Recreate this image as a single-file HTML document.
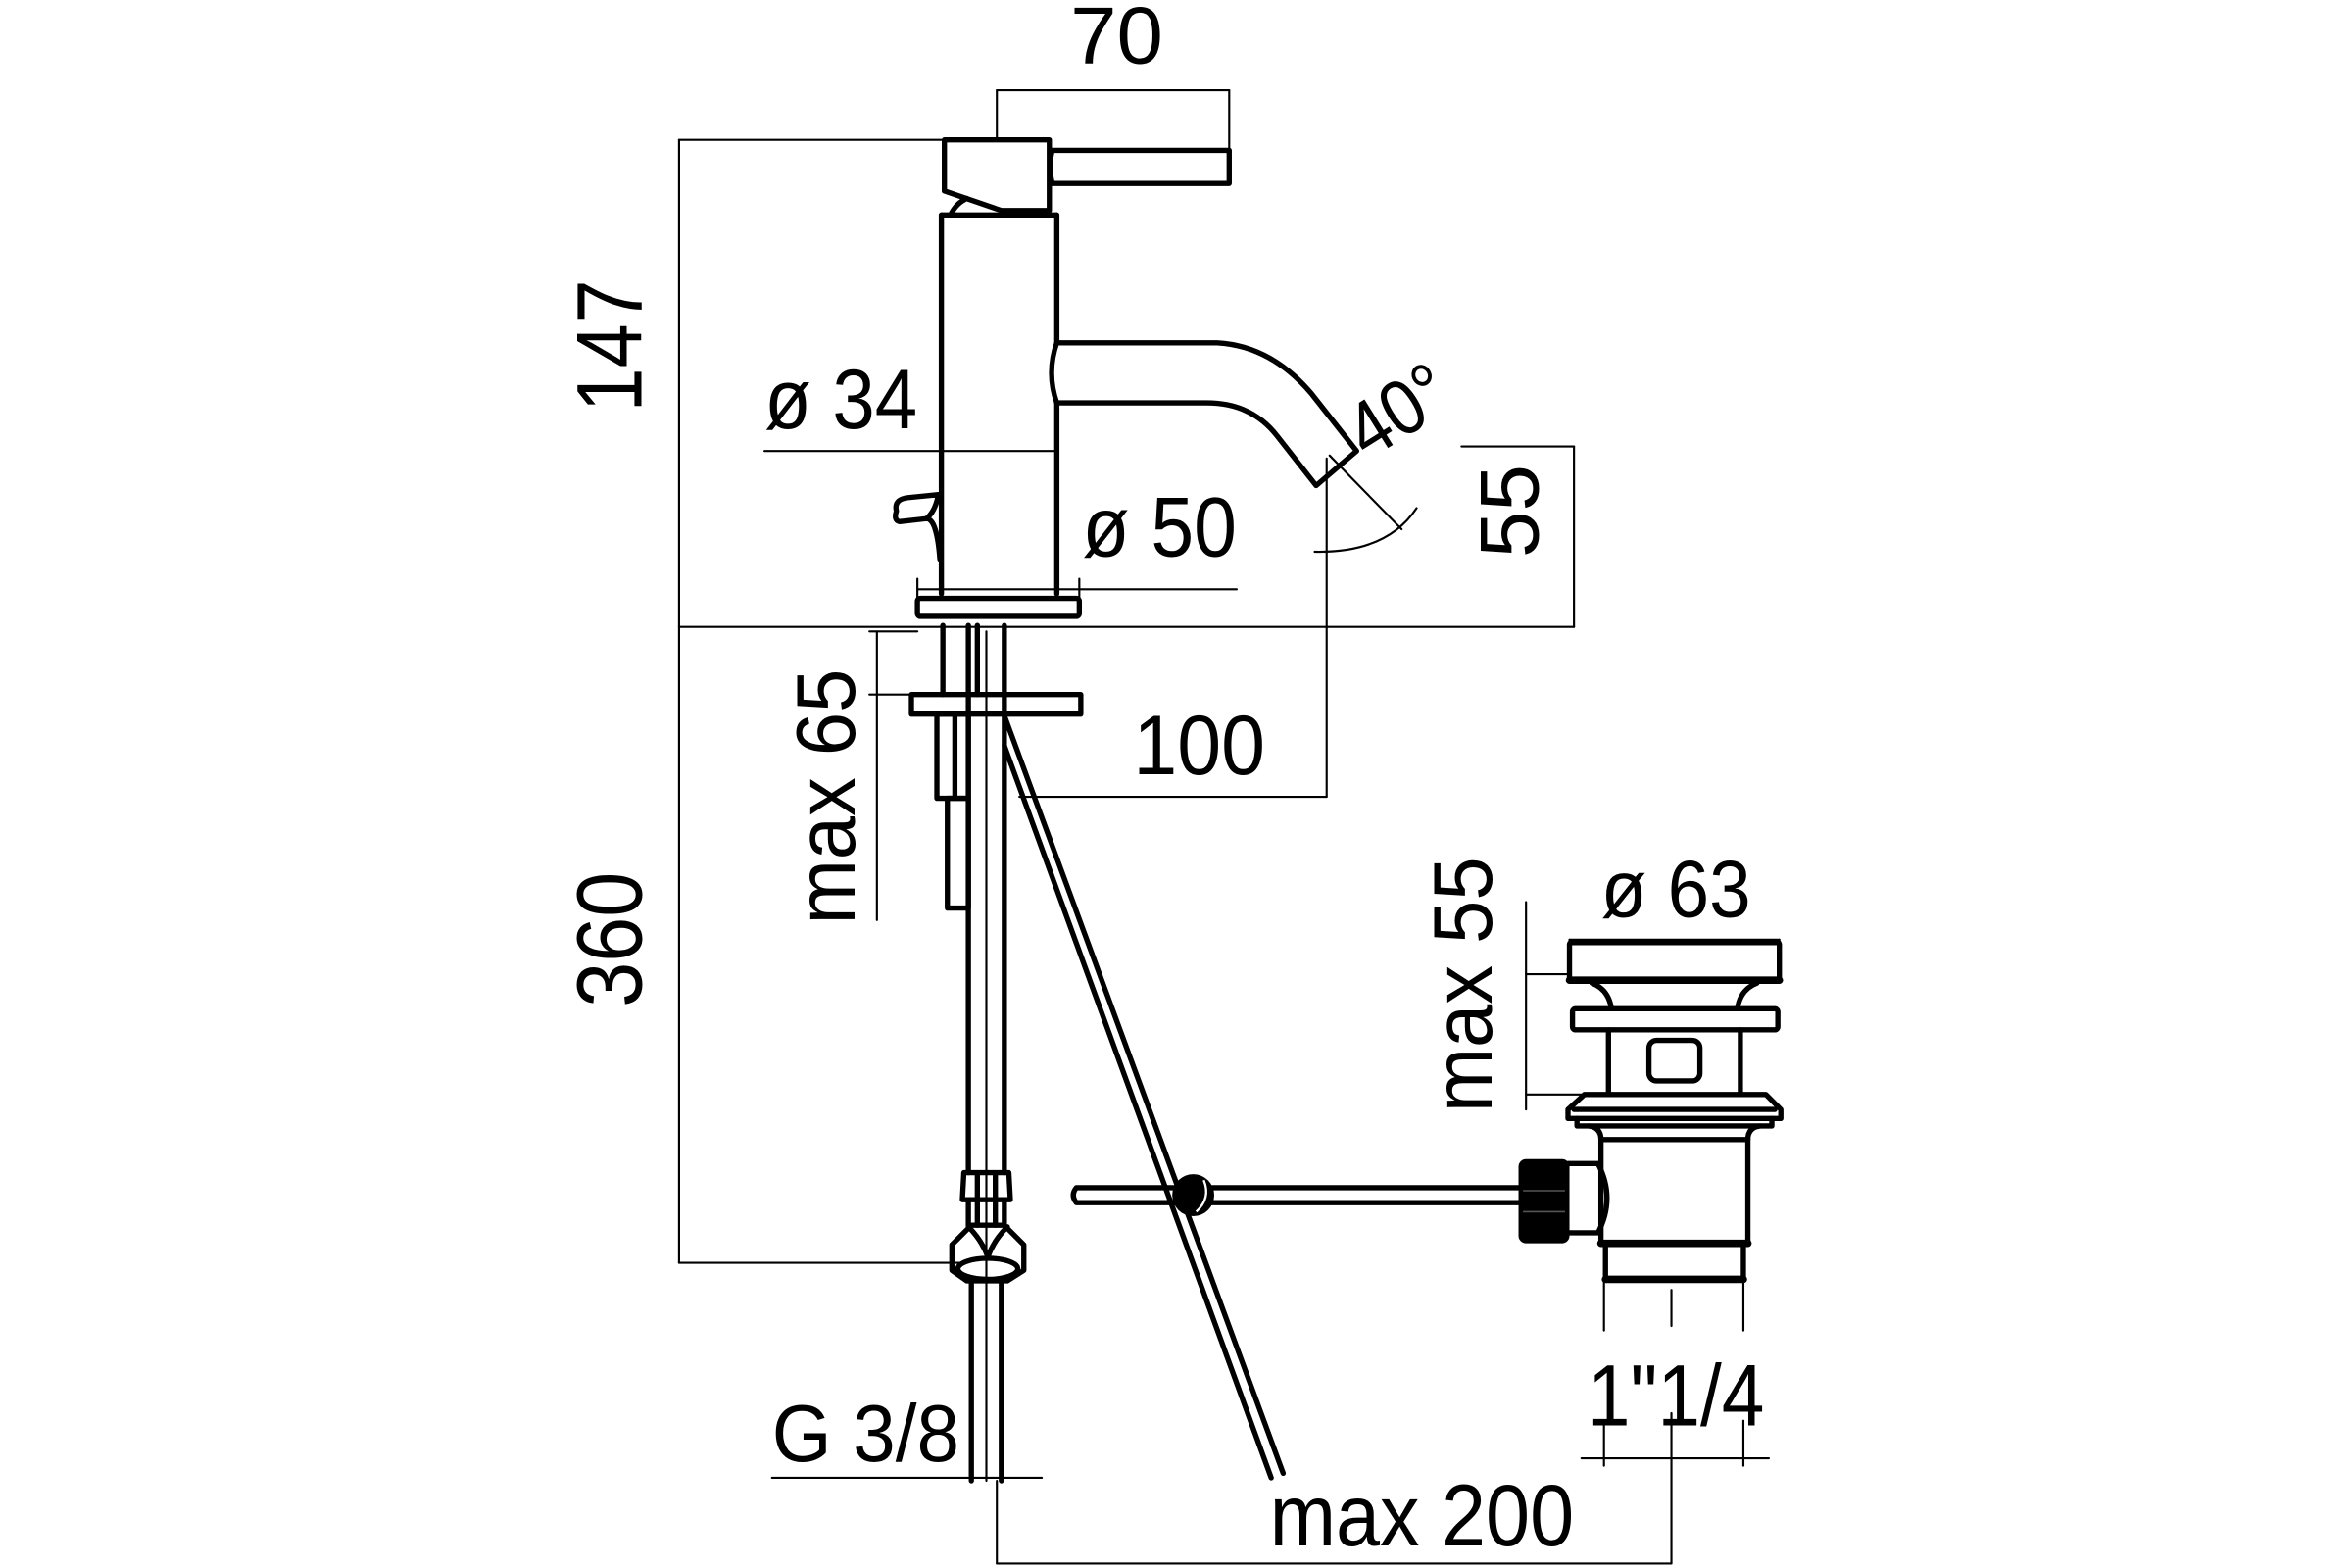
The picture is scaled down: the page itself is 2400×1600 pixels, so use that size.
<!DOCTYPE html>
<html><head><meta charset="utf-8"><style>
html,body{margin:0;padding:0;background:#fff;}
svg{display:block;}
text{font-family:"Liberation Sans Narrow","Liberation Sans",sans-serif;fill:#000;}
</style></head><body>
<svg width="2400" height="1600" viewBox="0 0 1569 1043" preserveAspectRatio="none" xmlns="http://www.w3.org/2000/svg">
<rect width="1569" height="1043" fill="#fff"/>
<g fill="none" stroke="#000" stroke-linecap="round" stroke-linejoin="round">
<g stroke-width="1.4">
 <line x1="665" y1="60" x2="820" y2="60"/>
 <line x1="665" y1="60" x2="665" y2="93"/>
 <line x1="820" y1="60" x2="820" y2="115"/>
 <line x1="453" y1="93" x2="628" y2="93"/>
 <line x1="453" y1="93" x2="453" y2="417"/>
 <line x1="453" y1="417" x2="1050" y2="417"/>
 <line x1="510" y1="300" x2="705" y2="300"/>
 <line x1="612" y1="392" x2="825" y2="392"/>
 <line x1="612" y1="385" x2="612" y2="398"/>
 <line x1="720" y1="385" x2="720" y2="398"/>
 <line x1="975" y1="297" x2="1050" y2="297"/>
 <line x1="1050" y1="297" x2="1050" y2="417"/>
 <line x1="885" y1="305" x2="885" y2="530"/>
 <line x1="887" y1="303" x2="935" y2="352"/>
 <path d="M877 367 Q925 368 945 338"/>
 <line x1="680" y1="530" x2="885" y2="530"/>
 <line x1="585" y1="420" x2="585" y2="612"/>
 <line x1="580" y1="420" x2="612" y2="420"/>
 <line x1="580" y1="462" x2="617" y2="462"/>
 <line x1="453" y1="417" x2="453" y2="840"/>
 <line x1="453" y1="840" x2="645" y2="840"/>
 <line x1="648" y1="850" x2="648" y2="985"/>
 <line x1="668" y1="850" x2="668" y2="985"/>
 <line x1="515" y1="983" x2="695" y2="983"/>
 <line x1="665" y1="985" x2="665" y2="1040"/>
 <line x1="665" y1="1040" x2="1115" y2="1040"/>
 <line x1="1115" y1="940" x2="1115" y2="1040"/>
 <line x1="1115" y1="858" x2="1115" y2="882"/>
 <line x1="1070" y1="851" x2="1070" y2="885"/>
 <line x1="1163" y1="851" x2="1163" y2="885"/>
 <line x1="1070" y1="945" x2="1070" y2="975"/>
 <line x1="1163" y1="945" x2="1163" y2="975"/>
 <line x1="1055" y1="970" x2="1180" y2="970"/>
 <line x1="1018" y1="600" x2="1018" y2="738"/>
 <line x1="1018" y1="648" x2="1047" y2="648"/>
 <line x1="1018" y1="728" x2="1055" y2="728"/>
 <line x1="1047" y1="625" x2="1187" y2="625"/>
 <line x1="1047" y1="625" x2="1047" y2="652"/>
 <line x1="1187" y1="625" x2="1187" y2="652"/>
 <line x1="658" y1="420" x2="658" y2="985"/>
</g>
<g stroke-width="3.5">
 <path d="M630 93 L700 93 L700 140 L668 140 L630 127 Z"/>
 <path d="M634 143 Q638 135 645 132"/>
 <path d="M702 100 L820 100 L820 122 L702 122 Q699 111 702 100 Z"/>
 <path d="M628 143 L705 143"/>
 <path d="M628 143 L628 395"/>
 <path d="M705 143 L705 228"/>
 <path d="M705 268 L705 395"/>
 <path d="M705 228 L812 228 Q848 230 875 262 L905 300 L878 323 L852 290 Q835 268 805 268 L705 268 Q698 248 705 228"/>
 <path d="M598 340 Q596 332 606 331 L626 329 Q624 340 618 345 L600 347 Q596 346 598 340"/>
 <path d="M618 345 Q625 345 627 372"/>
 <rect x="612" y="398" width="108" height="12" rx="2"/>
 <line x1="629" y1="416" x2="629" y2="462"/>
 <line x1="646" y1="416" x2="646" y2="780"/>
 <line x1="670" y1="416" x2="670" y2="780"/>
 <line x1="652" y1="416" x2="652" y2="462"/>
 <rect x="608" y="462" width="113" height="13"/>
 <rect x="625" y="475" width="21" height="56"/>
 <line x1="637" y1="475" x2="637" y2="531"/>
 <rect x="632" y="531" width="14" height="73"/>
 <line x1="670" y1="476" x2="856" y2="980"/>
 <line x1="670" y1="496" x2="848" y2="983"/>
 <path d="M643 780 L673 780 L674 798 L642 798 Z"/>
 <line x1="652" y1="782" x2="652" y2="815"/>
 <line x1="664" y1="782" x2="664" y2="815"/>
 <line x1="646" y1="798" x2="646" y2="815"/>
 <line x1="670" y1="798" x2="670" y2="815"/>
 <path d="M648 815 L670 815 L683 828 L683 845 L672 852 L645 852 L635 845 L635 828 Z"/>
 <ellipse cx="659" cy="844" rx="20" ry="7"/>
 <path d="M646 816 Q655 825 659 836 Q663 825 672 816"/>
 <line x1="648" y1="852" x2="648" y2="985"/>
 <line x1="668" y1="852" x2="668" y2="985"/>
 <path d="M1015 790 L718 790 Q714 795 718 800 L1015 800"/>
 <rect x="1047" y="627" width="140" height="25" rx="1"/>
 <path d="M1047 652 L1187 652" stroke-width="5"/>
 <path d="M1062 654 Q1073 658 1075 671 M1172 654 Q1161 658 1159 671"/>
 <rect x="1049" y="671" width="137" height="14" rx="2"/>
 <path d="M1073 685 L1073 728 M1161 685 L1161 728"/>
 <rect x="1100" y="692" width="34" height="27" rx="5"/>
 <path d="M1057 728 L1178 728 L1188 738 L1188 744 L1046 744 L1046 738 Z"/>
 <path d="M1050 738 L1184 738"/>
 <path d="M1052 744 L1052 749 L1182 749 L1182 744"/>
 <path d="M1060 749 Q1068 750 1068 758 L1068 827 M1174 749 Q1166 750 1166 758 L1166 827"/>
 <line x1="1068" y1="758" x2="1166" y2="758"/>
 <line x1="1068" y1="827" x2="1166" y2="827" stroke-width="5"/>
 <path d="M1071 827 L1071 851 M1163 827 L1163 851"/>
 <line x1="1071" y1="851" x2="1163" y2="851" stroke-width="5"/>
 <path d="M1046 774 L1066 774 Q1078 797 1066 820 L1046 820"/>
</g>
</g>
<rect x="1013" y="771" width="34" height="56" rx="5" fill="#000"/>
<line x1="1016" y1="792" x2="1044" y2="792" stroke="#555" stroke-width="1"/>
<line x1="1016" y1="806" x2="1044" y2="806" stroke="#555" stroke-width="1"/>
<circle cx="796" cy="795" r="14" fill="#000"/>
<path d="M803 785 Q808 797 798 806" stroke="#fff" stroke-width="1.5" fill="none"/>

<text x="745" y="42" font-size="54" text-anchor="middle" textLength="62" lengthAdjust="spacingAndGlyphs">70</text>
<text transform="translate(428,230) rotate(-90)" font-size="62" text-anchor="middle" textLength="88" lengthAdjust="spacingAndGlyphs">147</text>
<text x="510" y="285" font-size="56" textLength="102" lengthAdjust="spacingAndGlyphs">ø 34</text>
<text x="722" y="370" font-size="56" textLength="103" lengthAdjust="spacingAndGlyphs">ø 50</text>
<text transform="translate(942,288) rotate(-32)" font-size="52" text-anchor="middle" textLength="70" lengthAdjust="spacingAndGlyphs">40°</text>
<text transform="translate(1026,340) rotate(-90)" font-size="56" text-anchor="middle" textLength="62" lengthAdjust="spacingAndGlyphs">55</text>
<text x="800" y="515" font-size="56" text-anchor="middle" textLength="88" lengthAdjust="spacingAndGlyphs">100</text>
<text transform="translate(570,530) rotate(-90)" font-size="56" text-anchor="middle" textLength="170" lengthAdjust="spacingAndGlyphs">max 65</text>
<text transform="translate(428,625) rotate(-90)" font-size="62" text-anchor="middle" textLength="90" lengthAdjust="spacingAndGlyphs">360</text>
<text transform="translate(995,655) rotate(-90)" font-size="56" text-anchor="middle" textLength="170" lengthAdjust="spacingAndGlyphs">max 55</text>
<text x="1118" y="610" font-size="54" text-anchor="middle" textLength="100" lengthAdjust="spacingAndGlyphs">ø 63</text>
<text x="1118" y="948" font-size="58" text-anchor="middle" textLength="118" lengthAdjust="spacingAndGlyphs">1"1/4</text>
<text x="515" y="972" font-size="54" textLength="125" lengthAdjust="spacingAndGlyphs">G 3/8</text>
<text x="847" y="1028" font-size="58" textLength="203" lengthAdjust="spacingAndGlyphs">max 200</text>
</svg>
</body></html>
